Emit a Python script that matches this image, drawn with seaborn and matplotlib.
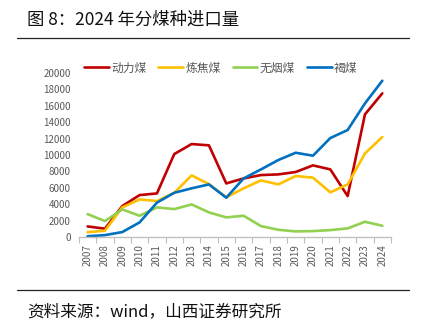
import matplotlib
matplotlib.use("Agg")
import matplotlib.pyplot as plt
import seaborn as sns
import pandas as pd
import numpy as np

years = list(range(2007, 2025))
thermal = [1300, 1020, 3780, 5120, 5320, 10120, 11340, 11180, 6540, 7150,
           7560, 7640, 7930, 8740, 8250, 5000, 14960, 17520]
coking = [600, 770, 3620, 4590, 4390, 5400, 7520, 6460, 4840, 5940,
          6910, 6420, 7440, 7240, 5450, 6420, 10200, 12200]
anthracite = [2800, 1950, 3370, 2600, 3620, 3410, 3980, 3010, 2400, 2600,
              1340, 890, 690, 730, 850, 1060, 1870, 1380]
lignite = [100, 240, 610, 1790, 4200, 5400, 5940, 6420, 4800, 7150,
           8250, 9390, 10280, 9920, 12070, 13050, 16300, 19060]

series_names = ["动力煤", "炼焦煤", "无烟煤", "褐煤"]
colors = ["#C00000", "#FFC000", "#92D050", "#0070C0"]

df = pd.DataFrame({
    "year": years * 4,
    "value": thermal + coking + anthracite + lignite,
    "kind": sum([[n] * len(years) for n in series_names], []),
})

sns.set_theme(style="white")
plt.rcParams["font.family"] = ["Noto Sans CJK SC", "DejaVu Sans"]

fig = plt.figure(figsize=(4.22, 3.23), dpi=100)
ax = fig.add_axes([0.187, 0.266, 0.7395, 0.508])

sns.lineplot(data=df, x="year", y="value", hue="kind", hue_order=series_names,
             palette=colors, linewidth=1.9, ax=ax, legend=True)

ax.set_xlim(2006.5, 2024.5)
ax.set_ylim(0, 20000)
ax.set_yticks(np.arange(0, 20001, 2000))
ax.set_yticklabels([str(v) for v in range(0, 20001, 2000)], fontsize=7, color="#595959")
ax.set_xticks(years)
ax.set_xticklabels([str(y) for y in years], rotation=90, fontsize=7, color="#595959")
ax.set_xticks(np.arange(2006.5, 2025, 1), minor=True)
ax.tick_params(axis="x", which="major", length=0, pad=5)
ax.tick_params(axis="x", which="minor", length=4, color="#BFBFBF", width=0.8, bottom=True)
ax.tick_params(axis="y", length=0, pad=6)
ax.set_xlabel("")
ax.set_ylabel("")
for s in ["left", "right", "top"]:
    ax.spines[s].set_visible(False)
ax.spines["bottom"].set_color("#BFBFBF")
ax.spines["bottom"].set_linewidth(1.0)
ax.grid(False)

leg = ax.legend(loc="center", bbox_to_anchor=(0.455, 1.03), ncol=4, frameon=False,
                fontsize=8.5, handlelength=2.1, handletextpad=0.2, columnspacing=1.0,
                borderaxespad=0.0, borderpad=0.0)
for t in leg.get_texts():
    t.set_color("#595959")

fig.text(0.064, 0.938, "图 8：2024 年分煤种进口量", fontsize=12.5, color="#111111",
         va="center", ha="left")
fig.add_artist(plt.Line2D([0.041, 0.969], [0.882, 0.882], color="#222222", linewidth=0.9))
fig.add_artist(plt.Line2D([0.041, 0.969], [0.102, 0.102], color="#222222", linewidth=0.9))
fig.text(0.064, 0.036, "资料来源：wind，山西证券研究所", fontsize=12, color="#111111",
         va="center", ha="left")

fig.savefig("out.png", dpi=100)
